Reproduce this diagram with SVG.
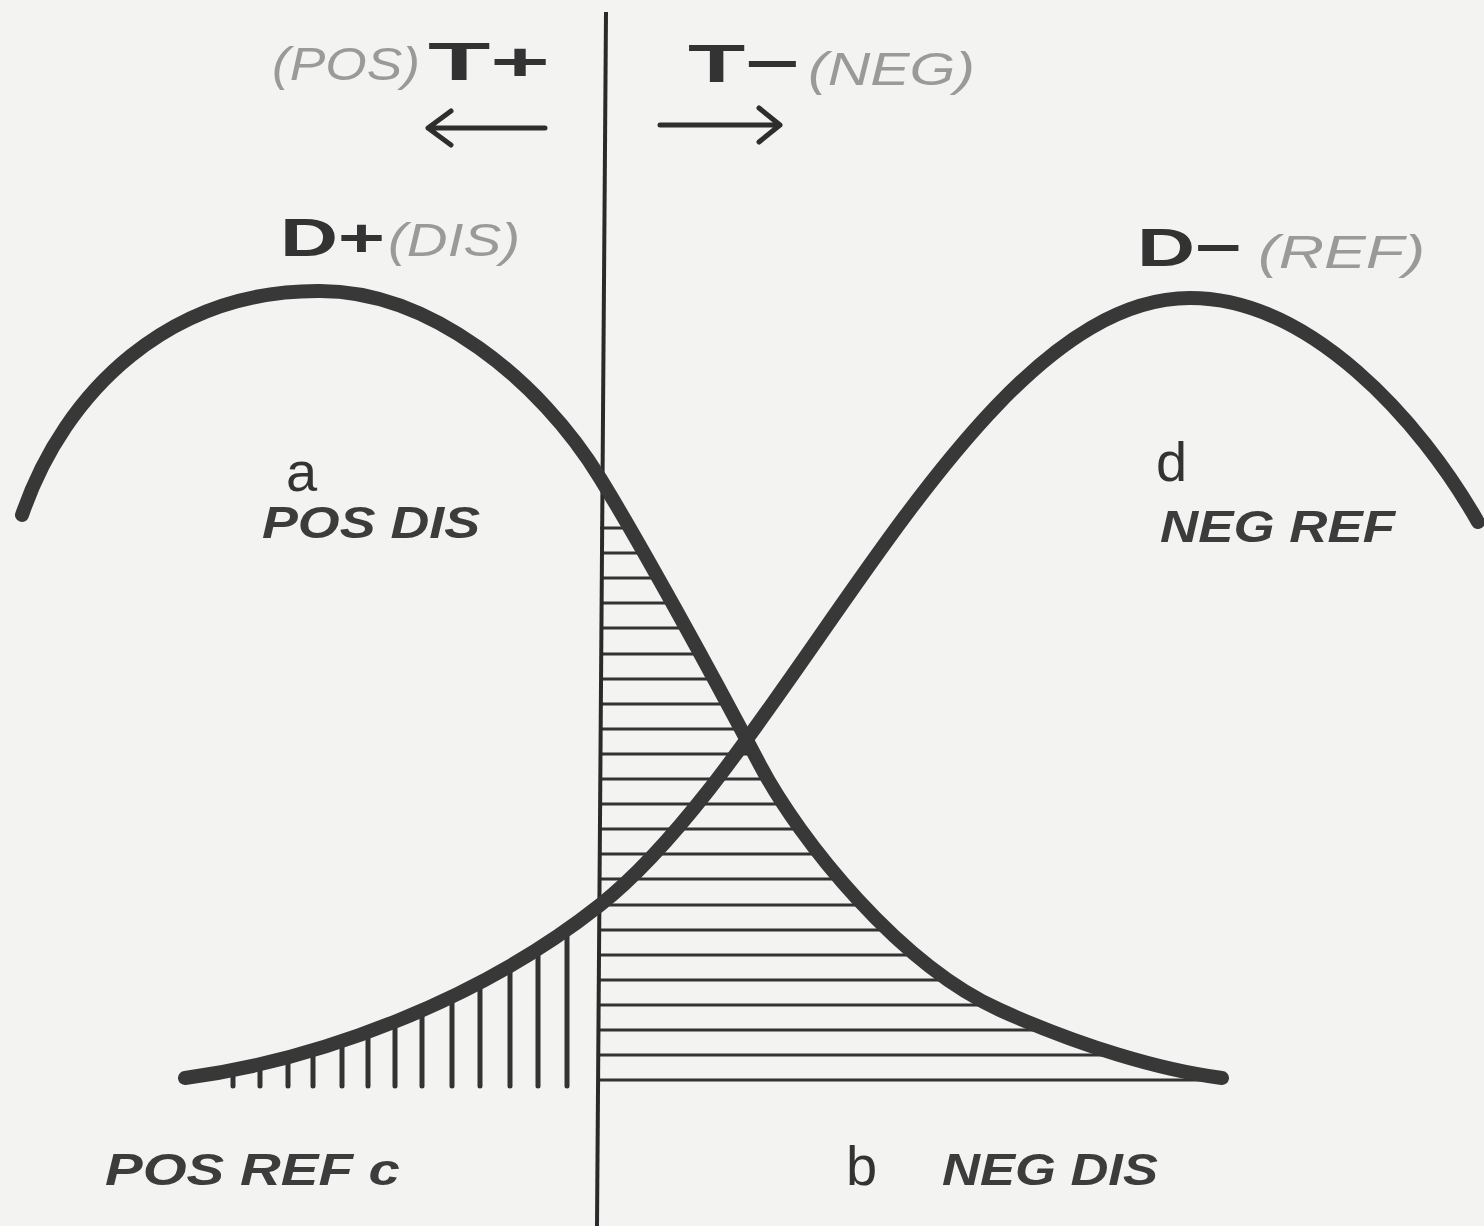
<svg xmlns="http://www.w3.org/2000/svg" width="1484" height="1226" viewBox="0 0 1484 1226">
<style>
.curve{fill:none;stroke:#383838;stroke-width:14;stroke-linecap:round;stroke-linejoin:round}
.axis{fill:none;stroke:#2a2a2a;stroke-width:4}
.hh{stroke:#333;stroke-width:3}
.vh{stroke:#333;stroke-width:5;stroke-linecap:round}
.arr{fill:none;stroke:#2e2e2e;stroke-width:5;stroke-linecap:round;stroke-linejoin:round}
.big{font-family:"Liberation Sans",Arial,sans-serif;font-weight:bold;fill:#333;font-size:54px}
.gray{font-family:"Liberation Sans",Arial,sans-serif;font-style:italic;fill:#9a9a9a;font-size:46px}
.lab{font-family:"Liberation Sans",Arial,sans-serif;font-style:italic;font-weight:bold;fill:#3c3c3c;font-size:44px}
.let{font-family:"Liberation Sans",Arial,sans-serif;fill:#333;font-size:56px}
</style>
<defs>
<clipPath id="clipH"><path d="M600,478 C640,543 710,670 760,765 C800,841 900,965 1000,1010 C1080,1046 1160,1070 1222,1078 L1230,1084 L600,1084 Z"/></clipPath>
<clipPath id="clipV"><path d="M185,1078 C320,1060 480,1000 600,905 L600,1090 L185,1090 Z"/></clipPath>
</defs>
<rect width="1484" height="1226" fill="#f3f3f1"/>
<g id="hatch-b" clip-path="url(#clipH)">
<path class="hh" d="M600,528H1230M600,553H1230M600,578H1230M600,603H1230M600,628H1230M600,654H1230M600,679H1230M600,704H1230M600,729H1230M600,754H1230M600,779H1230M600,804H1230M600,829H1230M600,854H1230M600,879H1230M600,905H1230M600,930H1230M600,955H1230M600,980H1230M600,1005H1230M600,1030H1230M600,1055H1230M600,1080H1230"/>
</g>
<g id="hatch-c" clip-path="url(#clipV)">
<path class="vh" d="M233,880V1086M260,880V1086M288,880V1086M313,880V1086M342,880V1086M368,880V1086M395,880V1086M422,880V1086M452,880V1086M480,880V1086M510,880V1086M538,880V1086M567,880V1086"/>
</g>
<g id="axis"><path class="axis" d="M606,12 L597,1226"/></g>
<g id="curve-Dplus"><path class="curve" d="M22,515 C65,390 170,290 320,291 C430,291 540,380 600,478 C640,543 710,670 760,765 C800,841 900,965 1000,1010 C1080,1046 1160,1070 1222,1078"/></g>
<g id="curve-Dminus"><path class="curve" d="M185,1078 C320,1060 480,1000 600,905 C790,755 970,298 1190,298 C1310,298 1420,420 1478,522"/></g>
<g id="arrows">
<path class="arr" d="M545,128 H428 M451,111 L428,128 L451,145"/>
<path class="arr" d="M660,125 H780 M759,108 L780,125 L759,142"/>
</g>
<g id="top-labels">
<text class="gray" x="272" y="80" textLength="148" lengthAdjust="spacingAndGlyphs">(POS)</text>
<text class="big" x="428" y="80" textLength="122" lengthAdjust="spacingAndGlyphs">T+</text>
<text class="big" x="688" y="82" textLength="112" lengthAdjust="spacingAndGlyphs">T−</text>
<text class="gray" x="808" y="85" textLength="167" lengthAdjust="spacingAndGlyphs">(NEG)</text>
<text class="big" x="280" y="256" textLength="105" lengthAdjust="spacingAndGlyphs">D+</text>
<text class="gray" x="388" y="256" textLength="132" lengthAdjust="spacingAndGlyphs">(DIS)</text>
<text class="big" x="1137" y="266" textLength="105" lengthAdjust="spacingAndGlyphs">D−</text>
<text class="gray" x="1258" y="268" textLength="167" lengthAdjust="spacingAndGlyphs">(REF)</text>
</g>
<g id="label-a">
<text class="let" x="286" y="491">a</text>
<text class="lab" x="262" y="538" textLength="218" lengthAdjust="spacingAndGlyphs">POS DIS</text>
</g>
<g id="label-d">
<text class="let" x="1156" y="481">d</text>
<text class="lab" x="1160" y="542" textLength="235" lengthAdjust="spacingAndGlyphs">NEG REF</text>
</g>
<g id="label-c">
<text class="lab" x="105" y="1185" textLength="295" lengthAdjust="spacingAndGlyphs">POS REF c</text>
</g>
<g id="label-b">
<text class="let" x="846" y="1185">b</text>
<text class="lab" x="942" y="1185" textLength="216" lengthAdjust="spacingAndGlyphs">NEG DIS</text>
</g>
</svg>
